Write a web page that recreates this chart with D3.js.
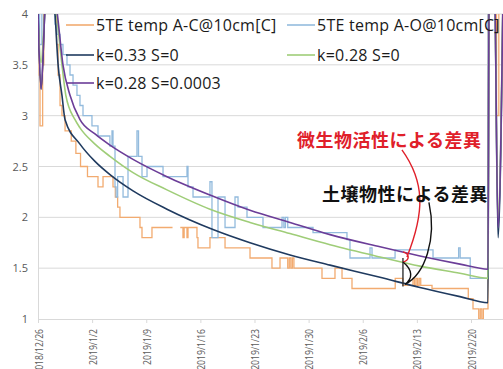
<!DOCTYPE html>
<html>
<head>
<meta charset="utf-8">
<script src="https://cdn.jsdelivr.net/npm/d3@7"></script>
<style>
  body { margin: 0; background: #fff; }
  svg { display: block; font-family: "Open Sans", sans-serif; }
</style>
</head>
<body>
<div class="chart-box"></div>
<script>
// values, x = days since 2018/12/26
let seriesNames = ["5TE temp A-C@10cm[C]", "5TE temp A-O@10cm[C]", "k=0.33 S=0", "k=0.28 S=0", "k=0.28 S=0.0003"];
let seriesColors = ["#f2ab70", "#93bbdd", "#1f3a5f", "#9fcd78", "#6b3d98"];
let xTickLabels = ["2018/12/26", "2019/1/2", "2019/1/9", "2019/1/16", "2019/1/23", "2019/1/30", "2019/2/6", "2019/2/13", "2019/2/20"];
let yTickValues = [1, 1.5, 2, 2.5, 3, 3.5, 4];

// measured (step lines)
let tempAC = [
  [0, 4.3], [0.15, 3.4], [0.26, 2.9], [0.6, 3.5], [0.75, 4.4], [2.2, 4.0], [2.4, 3.7], [2.6, 3.4], [2.85, 3.1],
  [3.1, 3.0], [3.5, 2.85], [4.3, 2.75], [4.9, 2.63], [5.5, 2.5], [6.4, 2.4], [7.76, 2.3], [8.41, 2.4],
  [9.7, 2.3], [10.0, 2.2], [10.3, 2.1], [10.6, 2.0], [13.19, 1.9], [13.45, 1.8], [14.74, 1.9], [17.4, 1.9],
  [17.46, null], [18.4, 1.9], [18.75, 1.8], [18.9, 1.9], [19.27, 1.8], [19.4, 1.9], [20.56, 1.8], [20.69, 1.7],
  [22.24, 1.8], [24.19, 1.7], [27.42, 1.6], [30.26, 1.5], [31.3, 1.6], [32.3, 1.5], [32.5, 1.6], [32.7, 1.5],
  [32.9, 1.6], [33.1, 1.5], [36.73, 1.4], [38.41, 1.5], [39.32, 1.4], [40.61, 1.3], [46.2, 1.4], [47.2, 1.33],
  [48.5, 1.4], [48.7, 1.33], [48.9, 1.4], [49.1, 1.33], [49.3, 1.4], [49.5, 1.33], [50.96, 1.3], [55.65, 1.2],
  [56.26, 1.1], [57.0, 1.0], [57.2, 1.1], [57.4, 1.0], [57.6, 1.1], [58.2, 4.4], [59.3, 3.0], [59.6, 4.4], [60.2, 4.4]
];
let tempAO = [
  [0, 4.3], [0.2, 3.7], [0.5, 4.4], [2.2, 3.9], [2.46, 3.8], [2.85, 3.7], [3.23, 3.6], [3.75, 3.5], [4.14, 3.4],
  [4.53, 3.3], [5.04, 3.2], [5.43, 3.1], [5.82, 3.0], [6.98, 2.9], [7.76, 2.8], [9.3, 2.7], [9.57, 2.85],
  [9.7, 2.7], [9.96, 2.3], [10.1, 2.2], [10.3, 2.4], [10.6, 2.4], [11.0, 2.2], [11.64, 2.6], [12.67, 2.6],
  [12.8, 2.85], [13.0, 2.6], [13.45, 2.4], [14.1, 2.5], [16.17, 2.4], [19.27, 2.5], [19.4, 2.3], [20.05, 2.2],
  [22.24, 2.35], [22.5, 1.8], [23.28, 2.2], [24.19, 1.9], [25.48, 2.2], [25.87, 2.1], [27.03, 2.0], [29.1, 1.9],
  [31.56, 2.0], [31.8, 1.9], [32.0, 2.0], [32.3, 1.9], [35.57, 1.85], [39.96, 1.78], [40.35, 1.6], [42.94, 1.7],
  [43.2, 1.6], [46.18, 1.68], [51.09, 1.6], [54.4, 1.7], [54.6, 1.6], [55.9, 1.4], [58.2, 4.4], [60.2, 4.4]
];

// model curves
let k33s0 = [
  [0, 4.05], [0.4, 3.26], [0.9, 4.05], [1.5, 4.5], [2.2, 4.0], [2.6, 3.5], [3.1, 3.2], [3.5, 2.96], [5.43, 2.72],
  [7.37, 2.55], [9.31, 2.42], [12.29, 2.26], [16.68, 2.08], [22.63, 1.88], [27.42, 1.75], [32.59, 1.63],
  [37.77, 1.53], [44.23, 1.41], [49.4, 1.31], [54.57, 1.22], [58.2, 1.16], [58.35, 4.5], [59.0, 4.5],
  [59.5, 1.8], [60.2, 4.5]
];
let k28s0 = [
  [0, 3.95], [0.4, 3.52], [0.9, 4.05], [1.5, 4.5], [2.4, 4.0], [3.1, 3.5], [3.6, 3.2], [4.79, 2.96], [5.43, 2.88],
  [7.37, 2.72], [9.31, 2.6], [12.29, 2.44], [16.68, 2.27], [22.24, 2.08], [27.42, 1.95], [32.59, 1.84],
  [37.77, 1.73], [44.23, 1.61], [49.4, 1.52], [54.57, 1.45], [58.2, 1.4], [58.35, 4.5], [59.0, 4.5],
  [59.5, 2.0], [60.2, 4.5]
];
let k28s3 = [
  [0, 4.0], [0.4, 3.26], [0.9, 4.05], [1.5, 4.5], [2.5, 4.0], [3.23, 3.5], [4.14, 3.2], [5.43, 2.96],
  [7.37, 2.82], [9.31, 2.71], [12.29, 2.57], [16.68, 2.4], [22.24, 2.22], [27.42, 2.07], [32.59, 1.95],
  [37.77, 1.83], [44.23, 1.71], [49.4, 1.62], [54.57, 1.54], [58.2, 1.49], [58.35, 4.5], [59.0, 4.5],
  [59.5, 1.9], [60.2, 4.5]
];

// annotation: day and the three model values it brackets
let annoDay = 47.2;
let annoValues = [1.66, 1.56, 1.34];
let annoTexts = ["微生物活性による差異", "土壌物性による差異"];

let width = 503, height = 369;
let margin = {top: 14, right: 0, bottom: 50, left: 38};
let base = new Date(2018, 11, 26);
let toDate = d => new Date(+base + d * 864e5);
let parseTick = d3.timeParse("%Y/%m/%d");

let svg = d3.select(".chart-box")
  .append("svg")
  .attr("width", width)
  .attr("height", height);

let x = d3.scaleTime()
  .domain([base, toDate(60.14)])
  .range([margin.left, width - margin.right]);
let y = d3.scaleLinear()
  .domain([1, 4])
  .range([height - margin.bottom, margin.top]);

svg.append("defs").append("clipPath")
  .attr("id", "plot-clip")
  .append("rect")
  .attr("x", margin.left)
  .attr("y", margin.top)
  .attr("width", width - margin.left - margin.right)
  .attr("height", height - margin.top - margin.bottom);

// gridlines
svg.append("g")
  .selectAll("line")
  .data(yTickValues.slice(1))
  .enter()
  .append("line")
  .attr("x1", margin.left)
  .attr("x2", width)
  .attr("y1", d => y(d))
  .attr("y2", d => y(d))
  .attr("stroke", "#d9d9d9")
  .attr("stroke-width", 1);

// y axis
let yAxis = svg.append("g")
  .attr("transform", `translate(${margin.left},0)`)
  .call(d3.axisLeft(y).tickValues(yTickValues).tickSize(0).tickPadding(10).tickFormat(d3.format("")));
yAxis.select(".domain").attr("stroke", "#d9d9d9");
yAxis.selectAll("text").attr("fill", "#595959").style("font-size", "11px").style("font-family", "Open Sans");

// x axis, labels squeezed like the narrow original font
let xAxis = svg.append("g")
  .attr("transform", `translate(0,${y(1)})`)
  .call(d3.axisBottom(x).tickValues(xTickLabels.map(parseTick)).tickSize(4).tickFormat(d3.timeFormat("%Y/%-m/%-d")));
xAxis.select(".domain").attr("stroke", "#d9d9d9");
xAxis.selectAll(".tick line").attr("stroke", "#d9d9d9");
xAxis.selectAll("text")
  .attr("fill", "#595959")
  .style("font-size", "11.5px")
  .style("font-family", "Open Sans")
  .attr("text-anchor", "end")
  .attr("transform", "rotate(-90)")
  .attr("x", -10)
  .attr("y", 0)
  .attr("dy", "0.35em")
  .each(function() {
    let len = this.getComputedTextLength();
    d3.select(this).attr("textLength", len * 0.75).attr("lengthAdjust", "spacingAndGlyphs");
  });

let plot = svg.append("g").attr("clip-path", "url(#plot-clip)");

let stepLine = d3.line()
  .defined(d => d[1] != null)
  .x(d => x(toDate(d[0])))
  .y(d => y(d[1]))
  .curve(d3.curveStepAfter);
let smoothLine = d3.line()
  .x(d => x(toDate(d[0])))
  .y(d => y(d[1]))
  .curve(d3.curveMonotoneX);

let measured = [tempAC, tempAO];
let models = [k33s0, k28s0, k28s3];

plot.selectAll(".measured")
  .data(measured)
  .enter()
  .append("path")
  .attr("class", "measured")
  .attr("d", stepLine)
  .attr("fill", "none")
  .attr("stroke", (d, i) => seriesColors[i])
  .attr("stroke-width", 1.3);

plot.selectAll(".model")
  .data(models)
  .enter()
  .append("path")
  .attr("class", "model")
  .attr("d", smoothLine)
  .attr("fill", "none")
  .attr("stroke", (d, i) => seriesColors[i + 2])
  .attr("stroke-width", 1.6);

// legend
let legendPos = [[66, 25], [287, 25], [66, 55], [287, 55], [66, 83]];
let legend = svg.append("g")
  .selectAll("g")
  .data(seriesNames)
  .enter()
  .append("g")
  .attr("transform", (d, i) => `translate(${legendPos[i][0]},${legendPos[i][1]})`);
legend.append("line")
  .attr("x1", 0).attr("x2", 28)
  .attr("stroke", (d, i) => seriesColors[i])
  .attr("stroke-width", 1.6);
legend.append("text")
  .attr("x", 30)
  .attr("dy", "0.35em")
  .style("font-size", "16px")
  .style("letter-spacing", "0.25px")
  .attr("fill", "#1a1a1a")
  .text(d => d);

// annotation
let xa = x(toDate(annoDay));
let [yP, yG, yN] = annoValues.map(y);
let anno = svg.append("g").attr("fill", "none").attr("stroke-width", 1.4);
anno.append("line")
  .attr("x1", xa).attr("x2", xa)
  .attr("y1", yG - 4).attr("y2", yN + 2)
  .attr("stroke", "#333");
anno.append("path")
  .attr("d", `M${xa},${yP} C${xa + 7},${yP + 2} ${xa + 7},${yG - 2} ${xa},${yG}
              M${xa + 4},${(yP + yG) / 2} C${xa + 22},${yP - 40} ${xa + 22},${yP - 70} ${xa - 1},${yP - 102}`)
  .attr("stroke", "#e0202a");
anno.append("path")
  .attr("d", `M${xa},${yG} C${xa + 10},${yG + 8} ${xa + 10},${yN - 6} ${xa + 2},${yN}
              C${xa + 22},${yN - 10} ${xa + 34},${yN - 45} ${xa + 26},${yN - 82}`)
  .attr("stroke", "#111");

svg.append("text")
  .attr("x", 297).attr("y", 147)
  .style("font-family", "Noto Sans CJK JP")
  .style("font-size", "18px")
  .style("font-weight", "bold")
  .style("letter-spacing", "0.5px")
  .attr("fill", "#e0202a")
  .text(annoTexts[0]);
svg.append("text")
  .attr("x", 322).attr("y", 201)
  .style("font-family", "Noto Sans CJK JP")
  .style("font-size", "18px")
  .style("font-weight", "bold")
  .style("letter-spacing", "0.5px")
  .attr("fill", "#111")
  .text(annoTexts[1]);
</script>
</body>
</html>
